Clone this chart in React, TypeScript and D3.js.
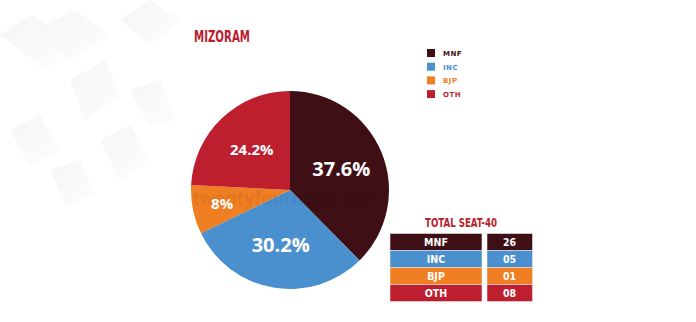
import React from "react";
import * as d3 from "d3";

const parties = ["MNF", "INC", "BJP", "OTH"];
const shares = [37.6, 30.2, 8, 24.2];
const shareLabels = ["37.6%", "30.2%", "8%", "24.2%"];
const seats = ["26", "05", "01", "08"];
const colors = ["#3e1016", "#4a90cf", "#f07e22", "#bd1f2f"];
const title = "MIZORAM";
const tableTitle = "TOTAL SEAT-40";
const watermark = "twentyfournews.com";

const W = 696;
const H = 322;

export default function App() {
  const cx = 290, cy = 190, r = 99;
  const pie = d3.pie<number>().sort(null).value((d) => d)(shares);
  const arc = d3.arc<d3.PieArcDatum<number>>().innerRadius(0).outerRadius(r);
  const labelPos = [
    { rr: 0.56, size: 20 },
    { rr: 0.56, size: 20 },
    { rr: 0.7, size: 15 },
    { rr: 0.56, size: 15 },
  ];
  const rowY = d3.scaleBand<string>().domain(parties).range([233.5, 301.5]).paddingInner(0);
  const narrow = "'Liberation Sans Narrow', 'DejaVu Sans Condensed', sans-serif";

  return (
    <svg width={W} height={H} style={{ position: "absolute", left: 0, top: 0 }}>
      <defs>
        <linearGradient id="bgShade" x1="0" y1="0" x2="1" y2="1">
          <stop offset="0" stopColor="#efefef" />
          <stop offset="1" stopColor="#fbfbfb" />
        </linearGradient>
      </defs>
      <rect width={W} height={H} fill="#ffffff" />
      <g fill="url(#bgShade)" opacity={0.55}>
        <polygon points="0,35 30,15 75,40 45,70" />
        <polygon points="35,30 75,10 110,35 70,60" />
        <polygon points="70,80 105,60 120,95 85,120" />
        <polygon points="120,20 150,0 180,20 150,45" />
        <polygon points="10,130 40,115 60,150 30,165" />
        <polygon points="100,140 130,125 150,160 120,180" />
        <polygon points="50,170 80,160 95,195 65,205" />
        <polygon points="130,90 160,80 175,120 150,125" />
      </g>
      <text x={194} y={42} textLength={56} lengthAdjust="spacingAndGlyphs" fontFamily={narrow} fontWeight="bold" fontSize={15} fill="#b91d2d">
        {title}
      </text>
      <g transform={`translate(${cx},${cy})`}>
        {pie.map((p, i) => (
          <path key={parties[i]} d={arc(p) || ""} fill={colors[i]} />
        ))}
      </g>
      <text x={192} y={205} textLength={188} lengthAdjust="spacingAndGlyphs" fontFamily="'Open Sans', sans-serif" fontWeight="bold" fontSize={19} fill="#000000" opacity={0.05}>
        {watermark}
      </text>
      <g transform={`translate(${cx},${cy})`}>
        {pie.map((p, i) => {
          const a = (p.startAngle + p.endAngle) / 2;
          const rr = r * labelPos[i].rr;
          const x = Math.sin(a) * rr;
          const y = -Math.cos(a) * rr;
          return (
            <text key={"l" + i} x={x} y={y} dy="0.35em" textAnchor="middle" fontFamily="'Open Sans', sans-serif" fontWeight="bold" fontSize={labelPos[i].size} fill="#ffffff">
              {shareLabels[i]}
            </text>
          );
        })}
      </g>
      <g>
        {parties.map((p, i) => (
          <g key={"lg" + p} transform={`translate(427,${49 + i * 13.7})`}>
            <rect width={8} height={8} fill={colors[i]} />
            <text x={16} y={7} fontFamily="'DejaVu Sans', sans-serif" fontWeight="bold" fontSize={7} letterSpacing={0.5} fill={colors[i]}>
              {p}
            </text>
          </g>
        ))}
      </g>
      <text x={425} y={227} textLength={72} lengthAdjust="spacingAndGlyphs" fontFamily={narrow} fontWeight="bold" fontSize={12.5} fill="#b91d2d">
        {tableTitle}
      </text>
      {parties.map((p, i) => {
        const y = rowY(p)!;
        const h = rowY.bandwidth();
        return (
          <g key={"t" + p}>
            <rect x={390} y={y} width={92} height={h} fill={colors[i]} stroke="#e6e6e6" strokeWidth={0.6} />
            <rect x={487} y={y} width={45.5} height={h} fill={colors[i]} stroke="#e6e6e6" strokeWidth={0.6} />
            <text x={436} y={y + h / 2} dy="0.36em" textAnchor="middle" fontFamily={narrow} fontWeight="bold" fontSize={10.5} fill="#ffffff">
              {p}
            </text>
            <text x={509.5} y={y + h / 2} dy="0.36em" textAnchor="middle" fontFamily={narrow} fontWeight="bold" fontSize={10.5} fill="#ffffff">
              {seats[i]}
            </text>
          </g>
        );
      })}
    </svg>
  );
}
